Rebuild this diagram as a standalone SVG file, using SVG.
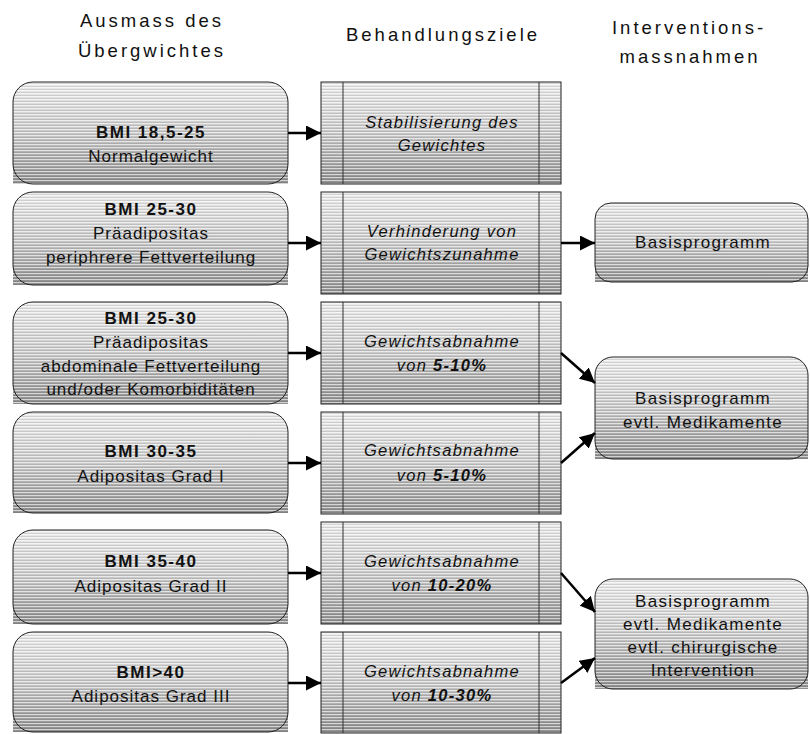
<svg xmlns="http://www.w3.org/2000/svg" width="810" height="734" viewBox="0 0 810 734">
<defs>
<linearGradient id="g" x1="0" y1="0" x2="0" y2="1">
<stop offset="0" stop-color="#ececec"/>
<stop offset="0.5" stop-color="#cacaca"/>
<stop offset="1" stop-color="#8f8f8f"/>
</linearGradient>
<pattern id="st" patternUnits="userSpaceOnUse" width="6" height="3">
<rect x="0" y="0" width="6" height="1" fill="#fff" fill-opacity="0.6"/>
<rect x="0" y="2" width="6" height="1" fill="#000" fill-opacity="0.1"/>
</pattern>
<marker id="ah" markerUnits="userSpaceOnUse" markerWidth="16" markerHeight="15" refX="15" refY="7.5" orient="auto">
<path d="M0,0 L15,7.5 L0,15 Z" fill="#000"/>
</marker>
</defs>
<style>
.f{fill:url(#g)}
.s{fill:url(#st)}
.o{fill:none;stroke:#222;stroke-width:1}
.col{stroke:#333;stroke-width:1}
text{font-family:"Liberation Sans",Arial,sans-serif;fill:#111;text-anchor:middle}
.h{font-size:18.5px;letter-spacing:3px}
.t{font-size:17px;letter-spacing:1px}
.b{font-weight:bold;letter-spacing:1.5px}
.i{font-style:italic;font-size:16.5px;letter-spacing:1.3px}
.r{font-size:17px;letter-spacing:1.3px}
.c line{stroke:#000;stroke-width:2.5;marker-end:url(#ah)}
</style>
<rect width="810" height="734" fill="#fff"/>

<g id="headers">
<text class="h" x="152" y="27">Ausmass des</text>
<text class="h" x="152" y="57">Übergwichtes</text>
<text class="h" x="443" y="41">Behandlungsziele</text>
<text class="h" x="689" y="34">Interventions-</text>
<text class="h" x="690" y="63">massnahmen</text>
</g>

<g id="l1">
<path class="f" d="M13,184 V102 A20,20 0 0 1 33,82 H268 A20,20 0 0 1 288,102 V184 Z"/>
<path class="s" d="M13,184 V102 A20,20 0 0 1 33,82 H268 A20,20 0 0 1 288,102 V184 Z"/>
<rect class="o" x="13" y="82" width="275" height="102" rx="20"/>
<text class="t b" x="151" y="138">BMI 18,5-25</text>
<text class="t" x="151" y="162">Normalgewicht</text>
</g>
<g id="l2">
<path class="f" d="M13,285 V212 A20,20 0 0 1 33,192 H268 A20,20 0 0 1 288,212 V285 Z"/>
<path class="s" d="M13,285 V212 A20,20 0 0 1 33,192 H268 A20,20 0 0 1 288,212 V285 Z"/>
<rect class="o" x="13" y="192" width="275" height="93" rx="20"/>
<text class="t b" x="151" y="215">BMI 25-30</text>
<text class="t" x="151" y="239">Präadipositas</text>
<text class="t" x="151" y="263">periphrere Fettverteilung</text>
</g>
<g id="l3">
<path class="f" d="M13,404 V322 A20,20 0 0 1 33,302 H268 A20,20 0 0 1 288,322 V404 Z"/>
<path class="s" d="M13,404 V322 A20,20 0 0 1 33,302 H268 A20,20 0 0 1 288,322 V404 Z"/>
<rect class="o" x="13" y="302" width="275" height="102" rx="20"/>
<text class="t b" x="151" y="324">BMI 25-30</text>
<text class="t" x="151" y="348">Präadipositas</text>
<text class="t" x="151" y="372">abdominale Fettverteilung</text>
<text class="t" x="151" y="395">und/oder Komorbiditäten</text>
</g>
<g id="l4">
<path class="f" d="M13,513 V432 A20,20 0 0 1 33,412 H268 A20,20 0 0 1 288,432 V513 Z"/>
<path class="s" d="M13,513 V432 A20,20 0 0 1 33,412 H268 A20,20 0 0 1 288,432 V513 Z"/>
<rect class="o" x="13" y="412" width="275" height="101" rx="20"/>
<text class="t b" x="151" y="457">BMI 30-35</text>
<text class="t" x="151" y="482">Adipositas Grad I</text>
</g>
<g id="l5">
<path class="f" d="M13,624 V550 A20,20 0 0 1 33,530 H268 A20,20 0 0 1 288,550 V624 Z"/>
<path class="s" d="M13,624 V550 A20,20 0 0 1 33,530 H268 A20,20 0 0 1 288,550 V624 Z"/>
<rect class="o" x="13" y="530" width="275" height="94" rx="20"/>
<text class="t b" x="151" y="567">BMI 35-40</text>
<text class="t" x="151" y="592">Adipositas Grad II</text>
</g>
<g id="l6">
<path class="f" d="M13,732 V652 A20,20 0 0 1 33,632 H268 A20,20 0 0 1 288,652 V732 Z"/>
<path class="s" d="M13,732 V652 A20,20 0 0 1 33,632 H268 A20,20 0 0 1 288,652 V732 Z"/>
<rect class="o" x="13" y="632" width="275" height="100" rx="20"/>
<text class="t b" x="151" y="678">BMI&gt;40</text>
<text class="t" x="151" y="702">Adipositas Grad III</text>
</g>

<g id="m1">
<rect class="f" x="321" y="82" width="240" height="102"/>
<rect class="s" x="321" y="82" width="240" height="102"/>
<rect class="o" x="321" y="82" width="240" height="102"/>
<line class="col" x1="343" y1="82" x2="343" y2="184"/><line class="col" x1="539" y1="82" x2="539" y2="184"/>
<text class="i" x="442" y="128">Stabilisierung des</text>
<text class="i" x="442" y="151">Gewichtes</text>
</g>
<g id="m2">
<rect class="f" x="321" y="192" width="240" height="102"/>
<rect class="s" x="321" y="192" width="240" height="102"/>
<rect class="o" x="321" y="192" width="240" height="102"/>
<line class="col" x1="343" y1="192" x2="343" y2="294"/><line class="col" x1="539" y1="192" x2="539" y2="294"/>
<text class="i" x="442" y="237">Verhinderung von</text>
<text class="i" x="442" y="260">Gewichtszunahme</text>
</g>
<g id="m3">
<rect class="f" x="321" y="302" width="240" height="102"/>
<rect class="s" x="321" y="302" width="240" height="102"/>
<rect class="o" x="321" y="302" width="240" height="102"/>
<line class="col" x1="343" y1="302" x2="343" y2="404"/><line class="col" x1="539" y1="302" x2="539" y2="404"/>
<text class="i" x="442" y="347">Gewichtsabnahme</text>
<text class="i" x="442" y="371">von <tspan font-weight="bold">5-10%</tspan></text>
</g>
<g id="m4">
<rect class="f" x="321" y="412" width="240" height="102"/>
<rect class="s" x="321" y="412" width="240" height="102"/>
<rect class="o" x="321" y="412" width="240" height="102"/>
<line class="col" x1="343" y1="412" x2="343" y2="514"/><line class="col" x1="539" y1="412" x2="539" y2="514"/>
<text class="i" x="442" y="456">Gewichtsabnahme</text>
<text class="i" x="442" y="481">von <tspan font-weight="bold">5-10%</tspan></text>
</g>
<g id="m5">
<rect class="f" x="321" y="522" width="240" height="102"/>
<rect class="s" x="321" y="522" width="240" height="102"/>
<rect class="o" x="321" y="522" width="240" height="102"/>
<line class="col" x1="343" y1="522" x2="343" y2="624"/><line class="col" x1="539" y1="522" x2="539" y2="624"/>
<text class="i" x="442" y="567">Gewichtsabnahme</text>
<text class="i" x="442" y="591">von <tspan font-weight="bold">10-20%</tspan></text>
</g>
<g id="m6">
<rect class="f" x="321" y="632" width="240" height="101"/>
<rect class="s" x="321" y="632" width="240" height="101"/>
<rect class="o" x="321" y="632" width="240" height="101"/>
<line class="col" x1="343" y1="632" x2="343" y2="733"/><line class="col" x1="539" y1="632" x2="539" y2="733"/>
<text class="i" x="442" y="677">Gewichtsabnahme</text>
<text class="i" x="442" y="701">von <tspan font-weight="bold">10-30%</tspan></text>
</g>

<g id="r1">
<path class="f" d="M595,282 V219 A16,16 0 0 1 611,203 H792 A16,16 0 0 1 808,219 V282 Z"/>
<path class="s" d="M595,282 V219 A16,16 0 0 1 611,203 H792 A16,16 0 0 1 808,219 V282 Z"/>
<rect class="o" x="595" y="203" width="213" height="79" rx="16"/>
<text class="r" x="703" y="248">Basisprogramm</text>
</g>
<g id="r2">
<path class="f" d="M595,459 V375 A18,18 0 0 1 613,357 H790 A18,18 0 0 1 808,375 V459 Z"/>
<path class="s" d="M595,459 V375 A18,18 0 0 1 613,357 H790 A18,18 0 0 1 808,375 V459 Z"/>
<rect class="o" x="595" y="357" width="213" height="102" rx="18"/>
<text class="r" x="703" y="404">Basisprogramm</text>
<text class="r" x="703" y="428">evtl. Medikamente</text>
</g>
<g id="r3">
<path class="f" d="M595,689 V597 A18,18 0 0 1 613,579 H790 A18,18 0 0 1 808,597 V689 Z"/>
<path class="s" d="M595,689 V597 A18,18 0 0 1 613,579 H790 A18,18 0 0 1 808,597 V689 Z"/>
<rect class="o" x="595" y="579" width="213" height="110" rx="18"/>
<text class="r" x="703" y="607">Basisprogramm</text>
<text class="r" x="703" y="630">evtl. Medikamente</text>
<text class="r" x="703" y="653">evtl. chirurgische</text>
<text class="r" x="703" y="676">Intervention</text>
</g>

<g id="connectors" class="c">
<line x1="288" y1="133" x2="321" y2="133"/>
<line x1="288" y1="243" x2="321" y2="243"/>
<line x1="288" y1="353" x2="321" y2="353"/>
<line x1="288" y1="463" x2="321" y2="463"/>
<line x1="288" y1="573" x2="321" y2="573"/>
<line x1="288" y1="683" x2="321" y2="683"/>
<line x1="561" y1="243" x2="595" y2="243"/>
<line x1="561" y1="353" x2="595" y2="383"/>
<line x1="561" y1="463" x2="595" y2="433"/>
<line x1="561" y1="573" x2="595" y2="612"/>
<line x1="561" y1="683" x2="595" y2="658"/>
</g>
</svg>
